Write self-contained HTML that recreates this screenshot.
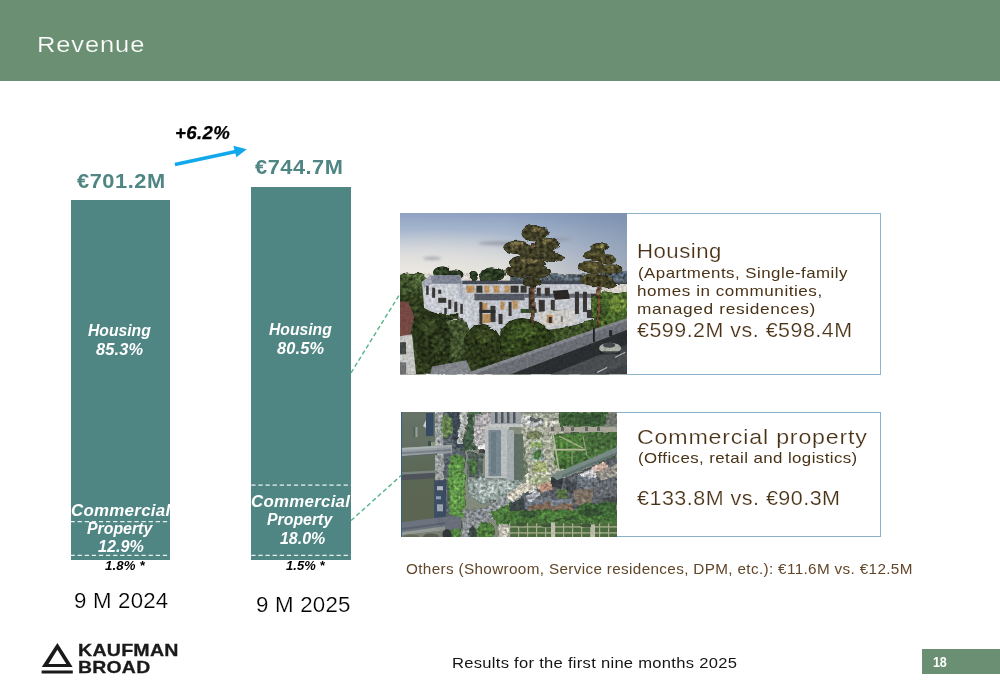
<!DOCTYPE html>
<html lang="en">
<head>
<meta charset="utf-8">
<title>Revenue</title>
<style>
html,body{margin:0;padding:0;background:#fff;}
body{width:1000px;height:685px;position:relative;overflow:hidden;font-family:"Liberation Sans",sans-serif;}
.t{position:absolute;white-space:nowrap;margin:0;padding:0;transform-origin:0 50%;}
.abs{position:absolute;}
#hdr{left:0;top:0;width:1000px;height:81px;background:#6a8f73;}
.bar{background:#4f8583;}
#bar1{left:70.5px;top:199.9px;width:99.8px;height:360px;}
#bar2{left:251.3px;top:186.5px;width:99.8px;height:373.4px;}
#pg{left:921.5px;top:649.1px;width:78.5px;height:25px;background:#6a8f73;}
#box1{left:626.5px;top:213.4px;width:254.5px;height:161.4px;border:1px solid #8fb3cb;box-sizing:border-box;border-left:none;}
#box2{left:401px;top:411.8px;width:480px;height:125.2px;border:1px solid #8bb0cc;box-sizing:border-box;}
svg{position:absolute;left:0;top:0;}
</style>
</head>
<body>
<div id="hdr" class="abs"></div>
<div id="bar1" class="abs bar"></div>
<div id="bar2" class="abs bar"></div>
<div id="box1" class="abs"></div>
<div id="box2" class="abs"></div>
<div id="pg" class="abs"></div>

<svg id="ph1" width="227.2" height="161.5" viewBox="0 0 226 160" preserveAspectRatio="none" style="left:399.7px;top:213.2px;overflow:hidden">
  <defs>
    <linearGradient id="sky1" x1="0" y1="0" x2="0" y2="1">
      <stop offset="0" stop-color="#8da2c1"/>
      <stop offset="0.22" stop-color="#a9b8cf"/>
      <stop offset="0.45" stop-color="#c6cdd9"/>
      <stop offset="0.7" stop-color="#dedddc"/>
      <stop offset="1" stop-color="#ebe5da"/>
    </linearGradient>
    <linearGradient id="sky1r" x1="0" y1="0" x2="1" y2="0">
      <stop offset="0" stop-color="#6f84a0" stop-opacity="0"/>
      <stop offset="0.45" stop-color="#6f84a0" stop-opacity="0.05"/>
      <stop offset="1" stop-color="#6f84a0" stop-opacity="0.55"/>
    </linearGradient>
    <radialGradient id="glow1" cx="0.18" cy="0.95" r="0.75">
      <stop offset="0" stop-color="#f4eee2" stop-opacity="1"/>
      <stop offset="0.6" stop-color="#ece8e0" stop-opacity="0.6"/>
      <stop offset="1" stop-color="#e6e1d6" stop-opacity="0"/>
    </radialGradient>
    <filter id="b1" x="-5%" y="-5%" width="110%" height="110%" color-interpolation-filters="sRGB">
      <feTurbulence type="fractalNoise" baseFrequency="0.09" numOctaves="3" seed="4" result="n"/>
      <feDisplacementMap in="SourceGraphic" in2="n" scale="5" xChannelSelector="R" yChannelSelector="G" result="d"/>
      <feGaussianBlur in="d" stdDeviation="0.55" result="db"/>
      <feTurbulence type="fractalNoise" baseFrequency="0.28" numOctaves="2" seed="11" result="t"/>
      <feColorMatrix in="t" type="matrix" values="0.9 0.9 0 0 -0.4  0.9 0.9 0 0 -0.4  0.9 0.9 0 0 -0.4  0 0 0 0 1" result="tg"/>
      <feComposite in="db" in2="tg" operator="arithmetic" k1="1.1" k2="0.36" k3="0" k4="0"/>
    </filter>
    <filter id="tex1" x="0" y="0" width="100%" height="100%">
      <feTurbulence type="fractalNoise" baseFrequency="0.35" numOctaves="2" seed="9" result="t"/>
      <feColorMatrix in="t" type="matrix" values="0 0 0 0 0  0 0 0 0 0  0 0 0 0 0  1.6 0 0 0 -0.45"/>
      <feGaussianBlur stdDeviation="0.5"/>
    </filter>
    <filter id="b1s" x="-5%" y="-5%" width="110%" height="110%"><feGaussianBlur stdDeviation="0.7"/></filter>
    <filter id="b1b" x="-10%" y="-10%" width="120%" height="120%"><feGaussianBlur stdDeviation="1.6"/></filter>
    <clipPath id="c1"><rect x="0" y="0" width="226" height="160"/></clipPath>
  </defs>
  <g clip-path="url(#c1)">
    <rect x="0" y="0" width="226" height="82" fill="url(#sky1)"/>
    <rect x="0" y="0" width="226" height="82" fill="url(#glow1)"/>
    <rect x="0" y="0" width="226" height="60" fill="url(#sky1r)"/>
    <!-- clouds -->
    <g filter="url(#b1b)" fill="#8e93a0" opacity="0.7">
      <ellipse cx="100" cy="30" rx="22" ry="2.2"/>
      <ellipse cx="32" cy="45" rx="9" ry="1.6"/>
      <ellipse cx="160" cy="26" rx="10" ry="1.4"/>
    </g>
    <g filter="url(#b1)">
      <!-- distant hills / horizon -->
      <rect x="110" y="61" width="116" height="8" fill="#6b7a86"/>
      <rect x="200" y="58" width="26" height="6" fill="#5f6f80"/>
      <!-- background tree line -->
      <path d="M0 62 Q6 57 12 60 Q18 58 24 62 L28 66 L28 92 L0 94 Z" fill="#4c6236"/>
      <ellipse cx="8" cy="78" rx="12" ry="16" fill="#4a6034"/>
      <ellipse cx="18" cy="68" rx="8" ry="7" fill="#587040"/>
      <ellipse cx="42" cy="59" rx="9" ry="6" fill="#34462a"/>
      <ellipse cx="54" cy="61" rx="8" ry="5" fill="#2c3c24"/>
      <ellipse cx="73" cy="63" rx="4.5" ry="4.5" fill="#33442a"/>
      <ellipse cx="92" cy="61" rx="12" ry="7" fill="#2f4026"/>
      <ellipse cx="86" cy="64" rx="6" ry="4" fill="#3d5230"/>
      <!-- ground base -->
      <rect x="0" y="80" width="226" height="80" fill="#3b4a26"/>
    </g>
    <g filter="url(#b1s)">
      <!-- left wing -->
      <polygon points="22,68 30,62 60,62 64,70 74,70 74,118 62,114 44,104 24,94" fill="#d9dde4"/>
      <polygon points="30,62 60,62 62,70 32,70" fill="#8a90a2"/>
      <polygon points="22,68 30,62 32,70 24,74" fill="#b4b9c6"/>
      <polygon points="56,70 66,70 70,86 60,86" fill="#c2c7d2"/>
      <!-- central block -->
      <polygon points="62,68 200,70 200,108 160,114 104,122 74,118" fill="#d3d7de"/>
      <rect x="62" y="67" width="138" height="3.5" fill="#4a4f5a"/>
      <rect x="74" y="80" width="50" height="6.5" fill="#5a5f6b"/>
      <rect x="124" y="80" width="76" height="4" fill="#6a6f7a"/>
      <!-- upper floor lit windows -->
      <g fill="#c99c66">
        <rect x="66" y="72" width="8" height="7"/><rect x="84" y="72" width="5" height="7"/><rect x="93" y="72" width="6" height="7"/>
        <rect x="104" y="72" width="5" height="7"/><rect x="80" y="89" width="7" height="9"/><rect x="82" y="100" width="8" height="9"/>
        <rect x="100" y="88" width="4" height="8"/><rect x="112" y="87" width="5" height="8"/><rect x="146" y="100" width="5" height="8"/>
      </g>
      <g fill="#3d3a38">
        <rect x="26" y="72" width="2.5" height="9"/><rect x="32" y="74" width="3" height="10"/><rect x="38" y="76" width="3" height="4"/>
        <rect x="38" y="84" width="8" height="5"/><rect x="48" y="86" width="3" height="9"/><rect x="54" y="88" width="3" height="10"/>
        <rect x="44" y="94" width="2.5" height="6"/><rect x="60" y="90" width="2.5" height="10"/><rect x="60" y="104" width="2.5" height="8"/>
        <rect x="76" y="72" width="6" height="7"/><rect x="110" y="72" width="8" height="7"/><rect x="120" y="72" width="6" height="7"/>
        <rect x="79" y="88" width="3" height="22"/><rect x="90" y="92" width="5" height="16"/><rect x="98" y="100" width="4" height="10"/>
        <rect x="108" y="88" width="3" height="14"/><rect x="128" y="74" width="3" height="24"/>
        <rect x="136" y="74" width="4" height="8"/><rect x="144" y="74" width="5" height="8"/><rect x="138" y="86" width="6" height="12"/>
        <rect x="150" y="86" width="4" height="10"/><rect x="174" y="78" width="4" height="22"/><rect x="182" y="78" width="4" height="20"/>
        <rect x="190" y="80" width="5" height="8"/><rect x="186" y="96" width="8" height="8"/>
      </g>
      <rect x="79" y="96" width="16" height="3" fill="#2f3036"/>
      <!-- roof terraces planting -->
      <rect x="120" y="95" width="16" height="4" fill="#3a5230"/>
      <rect x="152" y="96" width="18" height="3" fill="#3d5432"/>
      <!-- right dark roof + annex -->
      <polygon points="152,77 167,76 169,85 154,86" fill="#2f2a2c"/>
      <polygon points="137,98 173,95 174,110 140,114" fill="#dcdad6"/>
      <rect x="146" y="101" width="6" height="8" fill="#c99c66"/>
      <rect x="148" y="103" width="3" height="6" fill="#3a3030"/>
      <rect x="160" y="102" width="2" height="6" fill="#8a8580"/>
      <!-- red roof & white house bottom-left -->
      <polygon points="0,88 8,88 14,102 10,122 0,124" fill="#80504a"/>
      <polygon points="0,122 12,120 16,160 0,160" fill="#d4d4d2"/>
      <rect x="0" y="128" width="6" height="12" fill="#49504e"/>
      <rect x="0" y="148" width="6" height="12" fill="#77797a"/>
    </g>
    <g filter="url(#b1)">
      <!-- lawn -->
      <polygon points="44,106 66,108 72,126 60,146 46,140" fill="#4e6238"/>
      <!-- hedge -->
      <rect x="36" y="100" width="22" height="6" fill="#3a4a26"/>
      <!-- big trees / bushes foreground -->
      <ellipse cx="31" cy="126" rx="19" ry="26" fill="#39492400"/>
      <path d="M14 118 Q14 100 30 98 Q48 100 50 120 Q54 142 38 152 Q20 150 14 136 Z" fill="#2f3d1e"/>
      <ellipse cx="28" cy="112" rx="9" ry="8" fill="#41522a"/>
      <ellipse cx="38" cy="130" rx="7" ry="9" fill="#3a4a26"/>
      <path d="M64 128 Q66 112 82 110 Q98 112 100 128 Q102 146 84 152 Q66 150 64 138 Z" fill="#33421f"/>
      <ellipse cx="84" cy="122" rx="9" ry="7" fill="#46572a"/>
      <path d="M100 116 Q112 100 132 106 Q150 110 150 128 Q140 146 116 146 Q100 140 100 126 Z" fill="#36491f"/>
      <ellipse cx="124" cy="116" rx="14" ry="8" fill="#4a642b"/>
      <ellipse cx="112" cy="130" rx="9" ry="8" fill="#3f5626"/>
      <!-- low planting right -->
      <polygon points="150,118 200,104 204,112 156,130" fill="#4a6030"/>
      <!-- trees right edge -->
      <path d="M190 84 Q200 76 214 80 L226 78 L226 112 L200 116 Q190 104 190 92 Z" fill="#587a34"/>
      <ellipse cx="216" cy="90" rx="9" ry="9" fill="#7a9a40"/>
      <ellipse cx="200" cy="98" rx="7" ry="8" fill="#45622c"/>
    </g>
    <g filter="url(#b1s)">
      <!-- shed roof bottom -->
      <polygon points="32,152 66,146 72,160 30,160" fill="#8d9097"/>
      <!-- stone wall -->
      <polygon points="68,158 226,104 226,116 110,160 68,160" fill="#74777f"/>
      <polygon points="68,158 226,104 226,107 72,160" fill="#8e9097"/>
      <!-- road -->
      <polygon points="110,160 226,116 226,160" fill="#2e3136"/>
      <polygon points="150,160 226,130 226,160" fill="#43464b"/>
      <polygon points="150,160 200,140 226,136 226,150 200,160" fill="#5a5d62" opacity="0.55"/>
      <line x1="196" y1="158" x2="206" y2="153" stroke="#c9cbd0" stroke-width="1"/>
      <line x1="214" y1="143" x2="224" y2="138" stroke="#c9cbd0" stroke-width="1"/>
      <!-- car -->
      <ellipse cx="209" cy="134" rx="11" ry="5.5" fill="#b8bcb2"/>
      <ellipse cx="208" cy="131" rx="6" ry="2.6" fill="#4a4f52"/>
      <rect x="199" y="137" width="20" height="3" fill="#25272a" opacity="0.8"/>
      <!-- lamp post + pedestrian -->
      <rect x="192" y="114" width="1.8" height="14" fill="#22252a"/>
      <rect x="208" y="116" width="3" height="6" fill="#2a2c30"/>
    </g>
    <g filter="url(#b1)">
      <!-- pine 1 -->
      <rect x="130.5" y="30" width="3.2" height="80" fill="#6b4f38"/>
      <g fill="#46442a">
        <ellipse cx="134" cy="20" rx="13" ry="8"/>
        <ellipse cx="117" cy="34" rx="14" ry="6.5"/>
        <ellipse cx="146" cy="31" rx="12" ry="6.5"/>
        <ellipse cx="136" cy="40" rx="18" ry="6"/>
        <ellipse cx="126" cy="50" rx="18" ry="7"/>
        <ellipse cx="152" cy="44" rx="11" ry="4.5"/>
        <ellipse cx="118" cy="58" rx="14" ry="6"/>
        <ellipse cx="138" cy="58" rx="12" ry="6"/>
        <ellipse cx="132" cy="68" rx="10" ry="5"/>
      </g>
      <g fill="#6e6440">
        <ellipse cx="136" cy="17" rx="7" ry="3"/>
        <ellipse cx="116" cy="32" rx="7" ry="3"/>
        <ellipse cx="128" cy="47" rx="8" ry="2.6"/>
        <ellipse cx="146" cy="29" rx="5" ry="2.4"/>
      </g>
      <!-- pine 2 -->
      <rect x="196.5" y="44" width="2.8" height="68" fill="#7a5638"/>
      <g fill="#4e4b2c">
        <ellipse cx="198" cy="34" rx="9" ry="5"/>
        <ellipse cx="194" cy="42" rx="11" ry="5.5"/>
        <ellipse cx="206" cy="46" rx="9" ry="5"/>
        <ellipse cx="190" cy="54" rx="13" ry="6"/>
        <ellipse cx="210" cy="56" rx="11" ry="5"/>
        <ellipse cx="194" cy="66" rx="15" ry="6"/>
        <ellipse cx="206" cy="70" rx="10" ry="5"/>
      </g>
      <g fill="#76703f">
        <ellipse cx="199" cy="33" rx="5" ry="2.4"/>
        <ellipse cx="190" cy="52" rx="6" ry="2.4"/>
        <ellipse cx="208" cy="54" rx="5" ry="2"/>
      </g>
    </g>
    <rect x="0" y="60" width="226" height="100" fill="#10160c" filter="url(#tex1)" opacity="0.22"/>
  </g>
</svg>
<svg id="ph2" width="216" height="125.4" viewBox="0 0 216 125" preserveAspectRatio="none" style="left:401px;top:412px;overflow:hidden">
  <defs>
    <filter id="b2" x="-5%" y="-5%" width="110%" height="110%" color-interpolation-filters="sRGB">
      <feTurbulence type="fractalNoise" baseFrequency="0.12" numOctaves="3" seed="7" result="n"/>
      <feDisplacementMap in="SourceGraphic" in2="n" scale="5" xChannelSelector="R" yChannelSelector="G" result="d"/>
      <feGaussianBlur in="d" stdDeviation="0.55" result="db"/>
      <feTurbulence type="fractalNoise" baseFrequency="0.32" numOctaves="2" seed="3" result="t"/>
      <feColorMatrix in="t" type="matrix" values="0.9 0.9 0 0 -0.4  0.9 0.9 0 0 -0.4  0.9 0.9 0 0 -0.4  0 0 0 0 1" result="tg"/>
      <feComposite in="db" in2="tg" operator="arithmetic" k1="1.0" k2="0.48" k3="0" k4="0"/>
    </filter>
    <filter id="b2s" x="-5%" y="-5%" width="110%" height="110%"><feGaussianBlur stdDeviation="0.6"/></filter>
    <filter id="tex2" x="0" y="0" width="100%" height="100%">
      <feTurbulence type="fractalNoise" baseFrequency="0.4" numOctaves="2" seed="5" result="t"/>
      <feColorMatrix in="t" type="matrix" values="0 0 0 0 0  0 0 0 0 0  0 0 0 0 0  1.6 0 0 0 -0.45"/>
      <feGaussianBlur stdDeviation="0.5"/>
    </filter>
    <linearGradient id="riv" x1="0" y1="0" x2="0" y2="1">
      <stop offset="0" stop-color="#58665a"/>
      <stop offset="0.3" stop-color="#536050"/>
      <stop offset="0.5" stop-color="#4c5843"/>
      <stop offset="1" stop-color="#4a553e"/>
    </linearGradient>
    <clipPath id="c2"><rect x="0" y="0" width="216" height="125"/></clipPath>
    <pattern id="gard" width="9" height="6" patternUnits="userSpaceOnUse">
      <rect width="9" height="6" fill="#40622f"/>
      <rect width="9" height="1.2" fill="#b4ba98"/>
      <rect width="1.2" height="6" fill="#a8ae8e"/>
    </pattern>
  </defs>
  <g clip-path="url(#c2)">
    <rect x="0" y="0" width="216" height="125" fill="#7d8676"/>
    <!-- organic layer -->
    <g filter="url(#b2)">
      <rect x="34" y="0" width="10" height="125" fill="#9a9f9f"/>
      <!-- road along quay (dark) -->
      <polygon points="42,0 56,0 64,40 60,125 44,125" fill="#4d5960"/>
      <polygon points="46,0 58,0 64,36 54,36" fill="#2e3a48"/>
      <ellipse cx="46" cy="14" rx="6" ry="11" fill="#5a7a42"/>
      <polygon points="60,0 68,0 62,32 56,32" fill="#b4b8b4"/>
      <polygon points="68,0 80,0 74,38 62,38" fill="#35523a"/>
      <!-- tree strip -->
      <path d="M50 44 Q58 38 63 48 L65 102 Q57 110 49 102 Q45 70 50 44 Z" fill="#4f8a36"/>
      <ellipse cx="56" cy="76" rx="7" ry="24" fill="#5a9a3e"/>
      <!-- pale plaza top centre -->
      <polygon points="74,4 92,0 96,30 78,38 72,30" fill="#b8b3b7"/>
      <ellipse cx="82" cy="35" rx="6" ry="3" fill="#e4e4e2"/>
      <rect x="79" y="37" width="7" height="4" fill="#30343a"/>
      <polygon points="66,40 82,42 82,66 66,64" fill="#4a5a56"/>
      <ellipse cx="72" cy="54" rx="4" ry="9" fill="#3d6a34"/>
      <!-- lower palace (transept) -->
      <polygon points="66,66 112,64 124,70 112,84 84,92 68,84" fill="#8fa09b"/>
      <polygon points="72,70 108,68 112,76 80,86" fill="#a9b7b2"/>
      <!-- intersection / roads -->
      <polygon points="62,108 100,86 130,72 132,78 108,94 84,112 76,125 60,125" fill="#8e9498"/>
      <polygon points="60,98 76,96 90,100 70,112" fill="#80868c"/>
      <!-- trees bottom -->
      <ellipse cx="55" cy="119" rx="6" ry="8" fill="#467c30"/>
      <ellipse cx="84" cy="119" rx="10" ry="8" fill="#42742c"/>
      <ellipse cx="72" cy="121" rx="4" ry="6" fill="#2c3a34"/>
      <polygon points="88,100 110,90 122,94 118,104 96,108" fill="#457630"/>
      <polygon points="98,108 112,104 116,125 96,125" fill="#c6c3b6"/>
      <!-- centre-right garden blocks -->
      <rect x="120" y="2" width="44" height="64" fill="#a9ae9a"/>
      <rect x="122" y="4" width="8" height="10" fill="#d4d6d4"/>
      <rect x="128" y="10" width="14" height="5" fill="#b9bdc0"/>
      <rect x="144" y="9" width="22" height="5" fill="#c2c2b4"/>
      <rect x="128" y="6" width="12" height="3" fill="#4a5058"/>
      <rect x="126" y="20" width="14" height="7" fill="#6e7b52"/>
      <rect x="130" y="30" width="12" height="5" fill="#8fb068"/>
      <rect x="131" y="36" width="11" height="12" fill="#7f9a8a"/>
      <ellipse cx="137" cy="42" rx="3.6" ry="4.6" fill="#3f6e2e"/>
      <rect x="132" y="50" width="14" height="10" fill="#a3b070"/>
      <polygon points="112,26 122,30 128,64 120,66" fill="#66755e"/>
      <!-- dark trees top right -->
      <rect x="158" y="0" width="48" height="14" fill="#2f5528"/>
      <rect x="180" y="2" width="20" height="10" fill="#264a24"/>
      <rect x="204" y="2" width="12" height="12" fill="#6a7068"/>
      <!-- lawns -->
      <polygon points="152,22 216,20 216,44 176,58 156,56" fill="#3c6a2c"/>
      <polygon points="154,24 178,24 180,36 154,36" fill="#467c2e"/>
      <polygon points="154,39 170,39 170,50 162,56 154,52" fill="#43762c"/>
      <polygon points="172,40 184,40 178,50 172,52" fill="#356428"/>
      <ellipse cx="163" cy="52" rx="6" ry="3.5" fill="#2f5a22"/>
      <polygon points="184,22 216,22 216,36 190,38" fill="#38622a"/>
      <!-- south-east buildings -->
      <polygon points="158,68 216,44 216,100 120,100 120,80" fill="#50575e"/>
      <polygon points="190,56 204,50 208,56 194,62" fill="#c9a898"/>
      <polygon points="178,62 192,56 196,64 184,70" fill="#cfcfd2"/>
      <polygon points="196,60 216,52 216,64 200,68" fill="#9a968c"/>
      <polygon points="124,62 150,60 152,74 128,80" fill="#cfcdc0"/>
      <ellipse cx="140" cy="68" rx="12" ry="6" fill="#a9b38c"/>
      <polygon points="104,82 128,68 132,74 110,90" fill="#d5cfbc"/>
      <polygon points="124,84 136,78 140,84 128,90" fill="#b0b4bc"/>
      <polygon points="136,74 150,70 152,76 140,80" fill="#b98c74"/>
      <polygon points="150,64 162,66 160,78 150,74" fill="#252a30"/>
      <polygon points="164,66 176,70 174,82 166,80" fill="#343a42"/>
      <polygon points="176,64 196,66 200,76 180,76" fill="#68727c"/>
      <polygon points="124,90 150,84 152,92 126,98" fill="#68727c"/>
      <polygon points="128,94 150,90 150,98 128,100" fill="#7a5e4c"/>
      <polygon points="150,92 172,90 174,100 152,102" fill="#7c6250"/>
      <polygon points="150,88 172,86 172,91 150,93" fill="#6c7682"/>
      <polygon points="172,78 192,76 192,92 174,92" fill="#76685a"/>
      <polygon points="192,70 216,68 216,86 194,86" fill="#5c6066"/>
      <polygon points="156,78 166,78 166,86 156,86" fill="#4c6a34"/>
      <polygon points="108,92 122,86 124,98 110,100" fill="#2f3a3a"/>
      <polygon points="200,86 216,84 216,98 204,98" fill="#3a3f40"/>
      <!-- green tree band -->
      <polygon points="96,102 120,98 216,96 216,112 96,112" fill="#3a6e2a"/>
      <polygon points="176,92 216,90 216,104 180,104" fill="#2f5e26"/>
      <ellipse cx="190" cy="100" rx="12" ry="4" fill="#244420"/>
      <ellipse cx="128" cy="101" rx="10" ry="3.5" fill="#274a22"/>
      <ellipse cx="166" cy="108" rx="14" ry="2.5" fill="#2a4c22"/>
      <ellipse cx="150" cy="104" rx="16" ry="3" fill="#42782e"/>
      <rect x="108" y="108" width="108" height="3" fill="#3a6a2a"/>
    </g>
    <!-- straight / built layer -->
    <g filter="url(#b2s)">
      <!-- river -->
      <rect x="0" y="0" width="34" height="125" fill="url(#riv)"/>
      <rect x="12.5" y="15" width="1.2" height="10" fill="#3f4a44"/>
      <rect x="14.5" y="15" width="2" height="10" fill="#8d9694"/>
      <!-- dark moored boats top -->
      <rect x="25" y="1" width="7.5" height="23" fill="#213752"/>
      <polygon points="22,14 25,8 25,16" fill="#c5cbd0"/>
      <rect x="27" y="29" width="3" height="8" fill="#2c3c3c"/>
      <rect x="30" y="30" width="4" height="8" fill="#7f9070"/>
      <!-- boats lower -->
      <rect x="33" y="68" width="12" height="38" fill="#2c3c56"/>
      <rect x="36" y="74" width="6" height="4" fill="#b5bcc8"/>
      <rect x="35" y="84" width="5" height="3" fill="#8a98b0"/>
      <rect x="36" y="92" width="6" height="7" fill="#9aa4b4"/>
      <!-- bridges -->
      <polygon points="0,36 51,33 51,41 0,44" fill="#8e979a"/>
      <polygon points="0,36 51,33 51,35 0,38" fill="#a5adae"/>
      <polygon points="0,40 50,37 50,39 0,42" fill="#6c7680"/>
      <polygon points="0,44 36,41 36,43 0,46" fill="#4f5a54"/>
      <polygon points="0,60 36,58 36,61 0,63" fill="#6c7a72"/>
      <polygon points="0,62.5 34,60.5 34,66 0,68" fill="#3c434a"/>
      <polygon points="0,110 48,104 60,104 60,116 0,124" fill="#5e6672"/>
      <polygon points="0,116 44,110 44,112 0,118" fill="#4a525e"/>
      <polygon points="0,120 44,114 44,118 0,123" fill="#8a908a"/>
      <polygon points="0,123 44,118 44,125 0,125" fill="#6f7468"/>
      <ellipse cx="10" cy="125" rx="8" ry="3.2" fill="#555b48"/>
      <ellipse cx="30" cy="124.5" rx="8" ry="3.6" fill="#4a5040"/>
      <ellipse cx="46" cy="122" rx="4.5" ry="5" fill="#1f2426"/>
      <!-- Grand Palais nave -->
      <rect x="84" y="14" width="24" height="52" fill="#bcc1c0"/>
      <rect x="87.5" y="18" width="12.5" height="46" fill="#70838e"/>
      <rect x="90" y="20" width="5" height="42" fill="#62757f"/>
      <rect x="90" y="0" width="30" height="12" fill="#9aa0a6"/>
      <g fill="#3f4852"><rect x="94" y="0" width="2.5" height="11"/><rect x="100" y="0" width="2.5" height="11"/><rect x="106" y="0" width="2.5" height="11"/><rect x="112" y="0" width="2.5" height="11"/></g>
      <rect x="88" y="12" width="34" height="3" fill="#c9cccb"/>
      <rect x="106" y="18" width="7" height="50" fill="#a4adb0"/>
      <rect x="113" y="22" width="9" height="46" fill="#55665a"/>
      <!-- horizontal avenue -->
      <rect x="144" y="15" width="72" height="5" fill="#a9a597"/>
      <g fill="#5a5f58"><rect x="150" y="15" width="3" height="4"/><rect x="160" y="15" width="3" height="4"/><rect x="170" y="15" width="3" height="4"/><rect x="184" y="15" width="3" height="4"/><rect x="196" y="15" width="3" height="4"/></g>
      <!-- lawn paths -->
      <line x1="150" y1="37.5" x2="184" y2="37.5" stroke="#b9bd96" stroke-width="1.6"/>
      <line x1="158" y1="24" x2="182" y2="36" stroke="#a9b088" stroke-width="1.2"/>
      <line x1="171" y1="38" x2="171" y2="52" stroke="#9aa67c" stroke-width="1"/>
      <line x1="182" y1="24" x2="186" y2="44" stroke="#9aa67c" stroke-width="1"/>
      <line x1="152" y1="22" x2="158" y2="58" stroke="#b2b69a" stroke-width="1.6"/>
      <!-- diagonal avenue -->
      <polygon points="150,63 216,35 216,42 156,68" fill="#71857f"/>
      <polygon points="160,63 216,40 216,42 162,65" fill="#55696a"/>
      <!-- formal gardens -->
      <rect x="108" y="111" width="108" height="14" fill="url(#gard)"/>
      <g fill="#2f4a28"><ellipse cx="120" cy="112" rx="5" ry="2"/><ellipse cx="146" cy="113" rx="6" ry="2"/><ellipse cx="186" cy="113" rx="7" ry="2"/></g>
      <rect x="150" y="110" width="4" height="15" fill="#c3c2ae"/>
      <rect x="190" y="112" width="4" height="13" fill="#bdbca8"/>
    </g>
    <rect x="36" y="0" width="180" height="125" fill="#0c140c" filter="url(#tex2)" opacity="0.12"/>
    <rect x="0" y="0" width="216" height="125" fill="#e8ecec" opacity="0.1"/>
    <rect x="0" y="0" width="1" height="125" fill="#35607f"/>
  </g>
</svg>

<svg id="ov" width="1000" height="685" viewBox="0 0 1000 685">
  <!-- white dashed separators in bars -->
  <g stroke="#e9f1f0" stroke-width="1.25" stroke-dasharray="4.3 2.8" fill="none">
    <line x1="70.5" y1="521.6" x2="170.3" y2="521.6"/>
    <line x1="70.5" y1="555.4" x2="170.3" y2="555.4"/>
    <line x1="251.3" y1="485.1" x2="351.1" y2="485.1"/>
    <line x1="251.3" y1="555.4" x2="351.1" y2="555.4"/>
  </g>
  <!-- green dashed connectors -->
  <g stroke="#54b487" stroke-width="1.4" stroke-dasharray="4.4 2.8" fill="none">
    <line x1="351" y1="372.8" x2="400" y2="293.8"/>
    <line x1="351" y1="520.6" x2="401" y2="475.6"/>
  </g>
  <!-- blue arrow -->
  <g>
    <line x1="174.9" y1="164.5" x2="237" y2="151.3" stroke="#12a9ec" stroke-width="3.6"/>
    <polygon points="246.8,149.2 233.3,145.8 236.4,157.2" fill="#12a9ec"/>
  </g>
  <!-- logo mark -->
  <g fill="#1a1a1a" stroke="none">
    <path fill-rule="evenodd" d="M57.4 643.1 L41.8 666.9 L72.6 666.9 Z M57.4 649.8 L66.3 663.9 L48.5 663.9 Z"/>
    <rect x="41.6" y="670.5" width="31.2" height="3"/>
  </g>
</svg>

<div class="t" style="left:37.09px;top:31.00px;font-size:22.9px;line-height:27px;letter-spacing:0.813px;color:#ffffff;transform:scaleX(1.1121);-webkit-text-stroke:0.22px #6a8f73;">Revenue</div>
<div class="t" style="left:174.94px;top:123.00px;font-size:17.6px;line-height:21px;letter-spacing:0.369px;color:#000000;transform:scaleX(1.0584);-webkit-text-stroke:0.25px #000;font-weight:700;font-style:italic;">+6.2%</div>
<div class="t" style="left:76.70px;top:169.00px;font-size:20.3px;line-height:24px;letter-spacing:0.497px;color:#4f8583;transform:scaleX(1.0764);font-weight:700;">€701.2M</div>
<div class="t" style="left:255.10px;top:155.00px;font-size:20.3px;line-height:24px;letter-spacing:0.482px;color:#4f8583;transform:scaleX(1.0739);font-weight:700;">€744.7M</div>
<div class="t" style="left:87.80px;top:321.00px;font-size:16.0px;line-height:19px;letter-spacing:0.000px;color:#ffffff;transform:scaleX(0.9810);font-weight:700;font-style:italic;">Housing</div>
<div class="t" style="left:95.70px;top:340.01px;font-size:16.0px;line-height:19px;letter-spacing:0.142px;color:#ffffff;transform:scaleX(1.0239);font-weight:700;font-style:italic;">85.3%</div>
<div class="t" style="left:268.90px;top:320.01px;font-size:16.0px;line-height:19px;letter-spacing:0.000px;color:#ffffff;transform:scaleX(0.9810);font-weight:700;font-style:italic;">Housing</div>
<div class="t" style="left:276.80px;top:339.00px;font-size:16.0px;line-height:19px;letter-spacing:0.142px;color:#ffffff;transform:scaleX(1.0239);font-weight:700;font-style:italic;">80.5%</div>
<div class="t" style="left:70.50px;top:501.01px;font-size:16.0px;line-height:19px;letter-spacing:0.279px;color:#ffffff;transform:scaleX(1.0533);font-weight:700;font-style:italic;">Commercial</div>
<div class="t" style="left:87.00px;top:519.00px;font-size:16.0px;line-height:19px;letter-spacing:0.000px;color:#ffffff;transform:scaleX(0.9911);font-weight:700;font-style:italic;">Property</div>
<div class="t" style="left:97.90px;top:537.01px;font-size:16.0px;line-height:19px;letter-spacing:0.049px;color:#ffffff;transform:scaleX(1.0081);font-weight:700;font-style:italic;">12.9%</div>
<div class="t" style="left:250.90px;top:492.00px;font-size:16.0px;line-height:19px;letter-spacing:0.272px;color:#ffffff;transform:scaleX(1.0519);font-weight:700;font-style:italic;">Commercial</div>
<div class="t" style="left:267.00px;top:510.00px;font-size:16.0px;line-height:19px;letter-spacing:0.000px;color:#ffffff;transform:scaleX(0.9911);font-weight:700;font-style:italic;">Property</div>
<div class="t" style="left:280.40px;top:529.00px;font-size:16.0px;line-height:19px;letter-spacing:0.000px;color:#ffffff;transform:scaleX(0.9969);font-weight:700;font-style:italic;">18.0%</div>
<div class="t" style="left:104.70px;top:558.01px;font-size:12.8px;line-height:15px;letter-spacing:0.134px;color:#000000;transform:scaleX(1.0332);font-weight:700;font-style:italic;">1.8% *</div>
<div class="t" style="left:285.80px;top:558.01px;font-size:12.8px;line-height:15px;letter-spacing:0.060px;color:#000000;transform:scaleX(1.0147);font-weight:700;font-style:italic;">1.5% *</div>
<div class="t" style="left:73.67px;top:588.00px;font-size:21.6px;line-height:26px;letter-spacing:0.203px;color:#000000;transform:scaleX(1.0305);-webkit-text-stroke:0.2px #fff;">9 M 2024</div>
<div class="t" style="left:256.17px;top:592.00px;font-size:21.6px;line-height:26px;letter-spacing:0.212px;color:#000000;transform:scaleX(1.0319);-webkit-text-stroke:0.2px #fff;">9 M 2025</div>
<div class="t" style="left:636.73px;top:238.01px;font-size:20.7px;line-height:25px;letter-spacing:0.457px;color:#4a3216;transform:scaleX(1.0734);-webkit-text-stroke:0.2px #fff;">Housing</div>
<div class="t" style="left:637.80px;top:264.01px;font-size:15.0px;line-height:18px;letter-spacing:0.419px;color:#4a3216;transform:scaleX(1.1238);">(Apartments, Single-family</div>
<div class="t" style="left:636.76px;top:282.01px;font-size:15.0px;line-height:18px;letter-spacing:0.485px;color:#4a3216;transform:scaleX(1.1353);">homes in communities,</div>
<div class="t" style="left:636.75px;top:300.01px;font-size:15.0px;line-height:18px;letter-spacing:0.570px;color:#4a3216;transform:scaleX(1.1536);">managed residences)</div>
<div class="t" style="left:637.20px;top:318.00px;font-size:19.6px;line-height:24px;letter-spacing:0.472px;color:#4a3216;transform:scaleX(1.0920);-webkit-text-stroke:0.2px #fff;">€599.2M vs. €598.4M</div>
<div class="t" style="left:636.66px;top:425.01px;font-size:20.3px;line-height:24px;letter-spacing:0.709px;color:#4a3216;transform:scaleX(1.1442);-webkit-text-stroke:0.2px #fff;">Commercial property</div>
<div class="t" style="left:637.80px;top:449.01px;font-size:15.0px;line-height:18px;letter-spacing:0.366px;color:#4a3216;transform:scaleX(1.1245);">(Offices, retail and logistics)</div>
<div class="t" style="left:637.00px;top:486.00px;font-size:19.8px;line-height:24px;letter-spacing:0.448px;color:#4a3216;transform:scaleX(1.0865);-webkit-text-stroke:0.2px #fff;">€133.8M vs. €90.3M</div>
<div class="t" style="left:406.00px;top:561.01px;font-size:13.9px;line-height:17px;letter-spacing:0.321px;color:#624629;transform:scaleX(1.0986);">Others (Showroom, Service residences, DPM, etc.): €11.6M vs. €12.5M</div>
<div class="t" style="left:78.15px;top:641.00px;font-size:17.0px;line-height:20px;letter-spacing:0.207px;color:#1a1a1a;transform:scaleX(1.1525);-webkit-text-stroke:0.3px #1a1a1a;font-weight:700;">KAUFMAN</div>
<div class="t" style="left:78.16px;top:658.01px;font-size:17.0px;line-height:20px;letter-spacing:0.211px;color:#1a1a1a;transform:scaleX(1.1422);-webkit-text-stroke:0.3px #1a1a1a;font-weight:700;">BROAD</div>
<div class="t" style="left:451.92px;top:654.01px;font-size:15.4px;line-height:18px;letter-spacing:0.262px;color:#151515;transform:scaleX(1.0765);">Results for the first nine months 2025</div>
<div class="t" style="left:932.60px;top:654.01px;font-size:14.0px;line-height:17px;letter-spacing:-0.231px;color:#ffffff;transform:scaleX(0.9000);font-weight:700;">18</div>
</body>
</html>
